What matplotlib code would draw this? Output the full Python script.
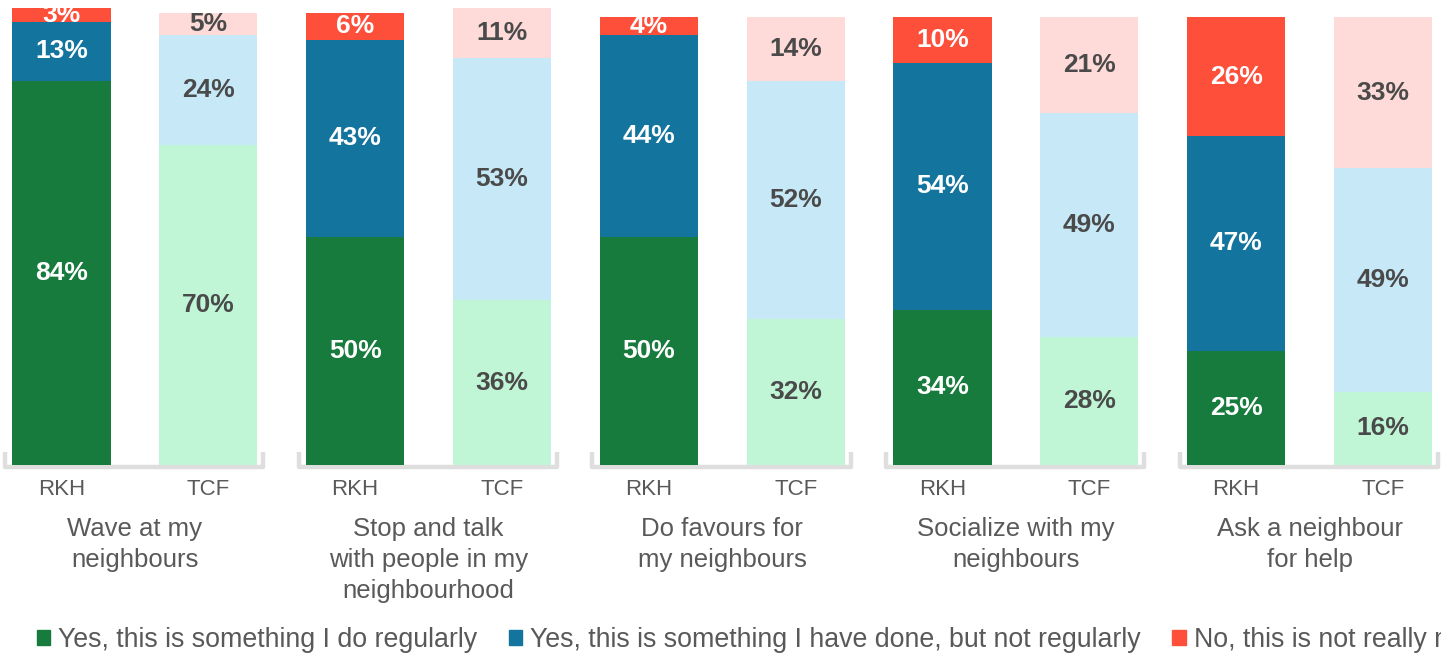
import numpy as np
import matplotlib.pyplot as plt
from matplotlib.patches import Patch

plt.rcParams['font.family'] = ['Liberation Sans', 'DejaVu Sans']

categories = ["Wave at my\nneighbours",
              "Stop and talk\nwith people in my\nneighbourhood",
              "Do favours for\nmy neighbours",
              "Socialize with my\nneighbours",
              "Ask a neighbour\nfor help"]
groups = ["RKH", "TCF"]

rkh_regular = [84, 50, 50, 34, 25]
rkh_done = [13, 43, 44, 54, 47]
rkh_no = [3, 6, 4, 10, 26]

tcf_regular = [70, 36, 32, 28, 16]
tcf_done = [24, 53, 52, 49, 49]
tcf_no = [5, 11, 14, 21, 33]

legend_labels = ["Yes, this is something I do regularly",
                 "Yes, this is something I have done, but not regularly",
                 "No, this is not really me"]

dark = ["#187b3e", "#13749e", "#fe4f3b"]
light = ["#c0f5d6", "#c6e8f7", "#fedad8"]
text_gray = "#595959"
bracket_gray = "#dedede"

W, H = 1441, 655
fig = plt.figure(figsize=(W / 100, H / 100), dpi=100)
ax = fig.add_axes([0, (H - 465) / H, 1, 457 / H])

n = len(categories)
x_rkh = np.arange(n) * 2
x_tcf = x_rkh + 1
bw = 0.668

def stack(xs, series, colors, txtcolor):
    bottom = np.zeros(len(xs))
    for vals, c in zip(series, colors):
        vals = np.array(vals, dtype=float)
        ax.bar(xs, vals, bw, bottom=bottom, color=c, linewidth=0)
        for x, b, v in zip(xs, bottom, vals):
            ax.text(x, b + v / 2, f"{int(v)}%", ha='center', va='center',
                    fontsize=19, fontweight='bold', color=txtcolor)
        bottom += vals

stack(x_rkh, [rkh_regular, rkh_done, rkh_no], dark, "white")
stack(x_tcf, [tcf_regular, tcf_done, tcf_no], light, "#4a4a4a")

# brackets under each group
for i in range(n):
    x0 = x_rkh[i] - bw / 2 - 0.05
    x1 = x_tcf[i] + bw / 2 + 0.04
    ax.plot([x0, x0, x1, x1], [2.8, -0.5, -0.5, 2.8], color=bracket_gray,
            lw=3.2, solid_joinstyle='round', solid_capstyle='butt',
            clip_on=False, zorder=0)
    ax.text((x_rkh[i] + x_tcf[i]) / 2, -0.113, categories[i],
            transform=ax.get_xaxis_transform(), ha='center', va='top',
            fontsize=18.5, color=text_gray, linespacing=1.38)

ax.set_xlim(-0.419, 9.395)
ax.set_ylim(0, 100)
ticks = np.concatenate([x_rkh, x_tcf])
ax.set_xticks(ticks, [groups[0]] * n + [groups[1]] * n)
ax.tick_params(axis='x', length=0, pad=10, labelsize=16, labelcolor=text_gray)
ax.set_yticks([])
for s in ax.spines.values():
    s.set_visible(False)

handles = [Patch(color=c) for c in dark]
fig.legend(handles, legend_labels, loc='center left',
           bbox_to_anchor=(37 / W, (H - 640) / H), ncol=3, frameon=False,
           fontsize=19.3, handlelength=0.5, handleheight=0.5,
           handletextpad=0.3, columnspacing=1.17, borderpad=0,
           borderaxespad=0, labelcolor=text_gray)

fig.savefig("out.png", dpi=100)
